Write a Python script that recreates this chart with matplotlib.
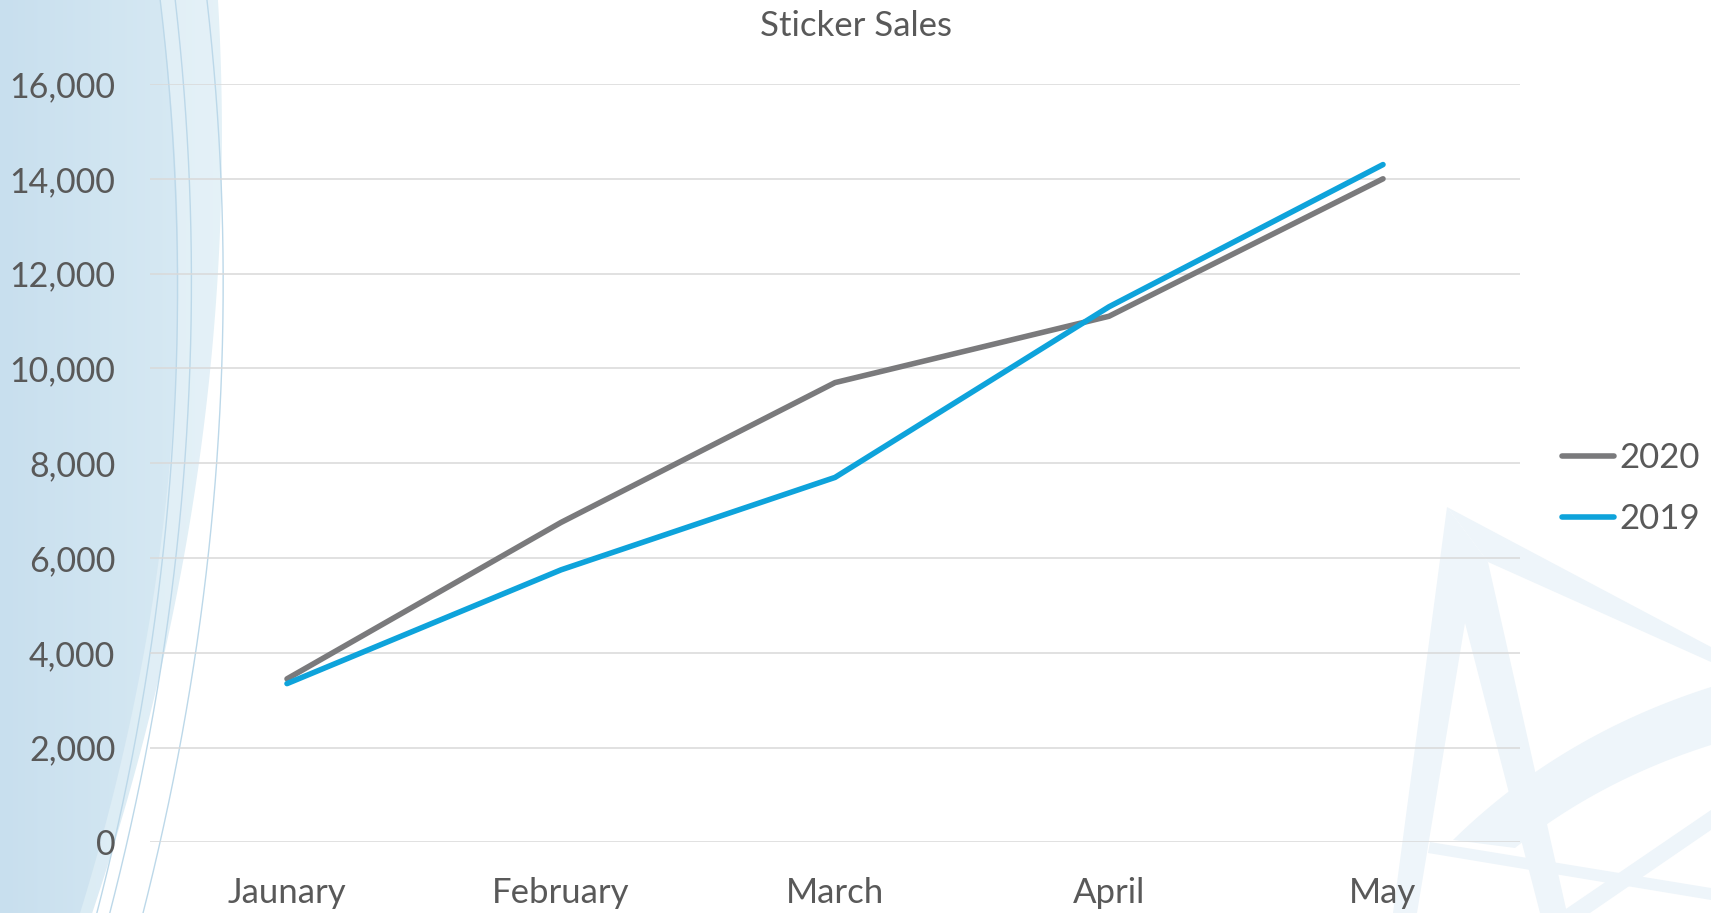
import matplotlib.pyplot as plt
import numpy as np
from matplotlib.patches import Polygon
from matplotlib.ticker import FuncFormatter

months = ['Jaunary', 'February', 'March', 'April', 'May']
sales_2020 = [3450, 6750, 9700, 11100, 14000]
sales_2019 = [3350, 5750, 7700, 11300, 14300]
y_ticks = [0, 2000, 4000, 6000, 8000, 10000, 12000, 14000, 16000]

W, H = 1711, 913
TEXT = '#595959'
GREY = '#7a7a7c'
BLUE = '#0ea3db'

plt.rcParams['font.family'] = ['Lato', 'DejaVu Sans']


def curve(pts, ys):
    # smooth edge through a few (y, x) points, used for the backdrop only
    py, px = zip(*pts)
    return np.polyval(np.polyfit(py, px, 2), ys)


def backdrop(fig):
    bg = fig.add_axes([0, 0, 1, 1], zorder=0)
    bg.set_xlim(0, W)
    bg.set_ylim(H, 0)
    bg.axis('off')
    ys = np.linspace(0, H, 200)
    cmap = plt.matplotlib.colors.LinearSegmentedColormap

    # pale outer band on the left
    outer = curve([(0, 215), (300, 225), (600, 167), (913, 95)], ys)
    poly = Polygon(np.column_stack([np.r_[0, outer, 0], np.r_[0, ys, H]]),
                   closed=True, fc='none', ec='none')
    bg.add_patch(poly)
    grad = np.linspace(0, 1, 256)[None, :]
    im = bg.imshow(grad, extent=[0, 240, H, 0], aspect='auto', zorder=1,
                   cmap=cmap.from_list('b1', ['#d6e9f3', '#e6f2f8']))
    im.set_clip_path(poly)

    # darker inner band
    inner = curve([(0, 160), (300, 178), (600, 153), (913, 80)], ys)
    poly2 = Polygon(np.column_stack([np.r_[0, inner, 0], np.r_[0, ys, H]]),
                    closed=True, fc='none', ec='none')
    bg.add_patch(poly2)
    im2 = bg.imshow(grad, extent=[0, 200, H, 0], aspect='auto', zorder=2,
                    cmap=cmap.from_list('b2', ['#c8dfee', '#d8eaf4']))
    im2.set_clip_path(poly2)

    # thin arcs
    for pts in ([(0, 160), (300, 178), (600, 157), (913, 97)],
                [(0, 207), (300, 223), (600, 203), (913, 143)],
                [(0, 175), (300, 192), (600, 170), (913, 110)]):
        bg.plot(curve(pts, ys), ys, color='#bcd8e9', lw=1.0, zorder=3)

    # faint shapes bottom right
    shade = '#eef5fa'
    shapes = [
        [(1447, 507), (1393, 913), (1417, 913), (1465, 623), (1540, 913),
         (1567, 913), (1488, 562)],
        [(1447, 507), (1711, 647), (1711, 662), (1488, 562)],
        [(1430, 842), (1711, 888), (1711, 900), (1428, 853)],
        [(1711, 810), (1711, 830), (1590, 913), (1560, 913)],
    ]
    for s in shapes:
        bg.add_patch(Polygon(s, closed=True, fc=shade, ec='none', zorder=1))
    t = np.linspace(0, 1, 40)
    top = np.column_stack([(1 - t)**2 * 1453 + 2 * (1 - t) * t * 1560 + t**2 * 1711,
                           (1 - t)**2 * 840 + 2 * (1 - t) * t * 735 + t**2 * 687])
    bot = np.column_stack([(1 - t)**2 * 1711 + 2 * (1 - t) * t * 1600 + t**2 * 1515,
                           (1 - t)**2 * 745 + 2 * (1 - t) * t * 780 + t**2 * 848])
    bg.add_patch(Polygon(np.vstack([top, bot]), closed=True, fc=shade, ec='none', zorder=1))


def main():
    fig = plt.figure(figsize=(W / 100, H / 100), dpi=100)
    backdrop(fig)

    ax = fig.add_axes([150 / W, 1 - 842.4 / H, 1370 / W, 758.4 / H], zorder=2)
    ax.set_facecolor('none')
    x = np.arange(len(months))
    ax.plot(x, sales_2020, color=GREY, lw=4.0, solid_capstyle='round',
            solid_joinstyle='round', label='2020', zorder=3)
    ax.plot(x, sales_2019, color=BLUE, lw=4.0, solid_capstyle='round',
            solid_joinstyle='round', label='2019', zorder=4)

    ax.set_xlim(-0.5, len(months) - 0.5)
    ax.set_ylim(0, 16000)
    ax.set_yticks(y_ticks)
    ax.yaxis.set_major_formatter(FuncFormatter(lambda v, p: f'{int(v):,}'))
    ax.set_xticks(x)
    ax.set_xticklabels(months)
    ax.grid(axis='y', color='#d9d9d9', lw=1.1)
    ax.set_axisbelow(True)
    for sp in ax.spines.values():
        sp.set_visible(False)
    ax.tick_params(axis='y', length=0, pad=25, labelsize=24.5, labelcolor=TEXT)
    ax.tick_params(axis='x', length=0, pad=25, labelsize=25, labelcolor=TEXT)

    fig.text(0.5, 1 - 26 / H, 'Sticker Sales', ha='center', va='center',
             fontsize=25, color=TEXT)

    fig.legend(loc='center left', bbox_to_anchor=(1562 / W, 1 - 488.5 / H),
               frameon=False, fontsize=25, labelcolor=TEXT, handlelength=1.5,
               handletextpad=0.15, borderpad=0, borderaxespad=0, labelspacing=0.85)

    plt.savefig('out.png', dpi=100)


if __name__ == '__main__':
    main()
